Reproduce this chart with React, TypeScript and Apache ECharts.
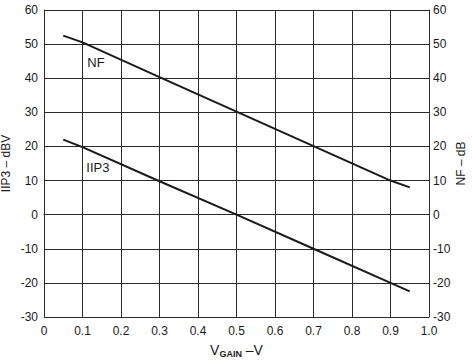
import React, { useEffect, useRef } from "react";
import * as echarts from "echarts";

const vGain = [0.05, 0.1, 0.3, 0.5, 0.7, 0.9, 0.95];
const nfValues = [52.5, 50.5, 40.3, 30.2, 20.1, 10, 8];
const iip3Values = [22, 19.8, 9.8, 0, -10, -20, -22.5];
const nfLabelPos = [0.135, 44.5];
const iip3LabelPos = [0.14, 13.7];
const xTicks = { min: 0, max: 1, step: 0.1 };
const yTicks = { min: -30, max: 60, step: 10 };

const FONT = "'Liberation Sans', Arial, Helvetica, sans-serif";
const INK = "#1a1a1a";

export default function App() {
  const ref = useRef<HTMLDivElement>(null);
  useEffect(() => {
    if (!ref.current) return;
    const chart = echarts.init(ref.current, undefined, { renderer: "svg" });
    const pair = (xs: number[], ys: number[]) => xs.map((x, i) => [x, ys[i]]);
    const lineStyle = { color: INK, width: 2 };
    const axisLabel = { color: INK, fontSize: 12, fontFamily: FONT };
    const splitLine = { show: true, lineStyle: { color: "#2a2a2a", width: 1 } };
    const axisLine = { show: true, lineStyle: { color: "#2a2a2a", width: 1 } };
    const mk = (pos: number[], text: string) => ({
      symbol: "circle",
      symbolSize: 0,
      data: [{ coord: pos, value: text }],
      label: {
        show: true,
        position: "inside",
        formatter: text,
        color: INK,
        fontSize: 13,
        fontFamily: FONT,
      },
    });
    chart.setOption({
      animation: false,
      backgroundColor: "#ffffff",
      grid: {
        left: 44,
        right: 43,
        top: 10,
        bottom: 43,
        containLabel: false,
        outerBoundsMode: "none",
      },
      xAxis: {
        type: "value",
        min: xTicks.min,
        max: xTicks.max,
        interval: xTicks.step,
        axisLine,
        axisTick: { show: false },
        splitLine,
        axisLabel: {
          ...axisLabel,
          margin: 8,
          formatter: (v: number) => (v === 0 ? "0" : v.toFixed(1)),
        },
        name: "{v|V}{s|GAIN}{v| –V}",
        nameLocation: "middle",
        nameGap: 25,
        nameMoveOverlap: false,
        nameTextStyle: {
          rich: {
            v: { fontSize: 14, fontFamily: FONT, color: INK },
            s: { fontSize: 9, fontWeight: "bold", fontFamily: FONT, color: INK, padding: [7, 0, 0, 0] },
          },
        },
      },
      yAxis: [
        {
          type: "value",
          min: yTicks.min,
          max: yTicks.max,
          interval: yTicks.step,
          position: "left",
          axisLine,
          axisTick: { show: false },
          splitLine,
          axisLabel: { ...axisLabel, margin: 6 },
          name: "IIP3 – dBV",
          nameLocation: "middle",
          nameGap: 32,
          nameRotate: 90,
          nameMoveOverlap: false,
          nameTextStyle: { color: INK, fontSize: 12, fontFamily: FONT },
        },
        {
          type: "value",
          min: yTicks.min,
          max: yTicks.max,
          interval: yTicks.step,
          position: "right",
          axisLine,
          axisTick: { show: false },
          splitLine: { show: false },
          axisLabel: { ...axisLabel, margin: 4 },
          name: "NF – dB",
          nameLocation: "middle",
          nameGap: 26,
          nameRotate: 90,
          nameMoveOverlap: false,
          nameTextStyle: { color: INK, fontSize: 12, fontFamily: FONT },
        },
      ],
      series: [
        {
          name: "NF",
          type: "line",
          data: pair(vGain, nfValues),
          showSymbol: false,
          lineStyle,
          markPoint: mk(nfLabelPos, "NF"),
        },
        {
          name: "IIP3",
          type: "line",
          data: pair(vGain, iip3Values),
          showSymbol: false,
          lineStyle,
          markPoint: mk(iip3LabelPos, "IIP3"),
        },
      ],
    });
    return () => chart.dispose();
  }, []);
  return (
    <div
      ref={ref}
      style={{ position: "fixed", left: 0, top: 0, width: 472, height: 360 }}
    />
  );
}
